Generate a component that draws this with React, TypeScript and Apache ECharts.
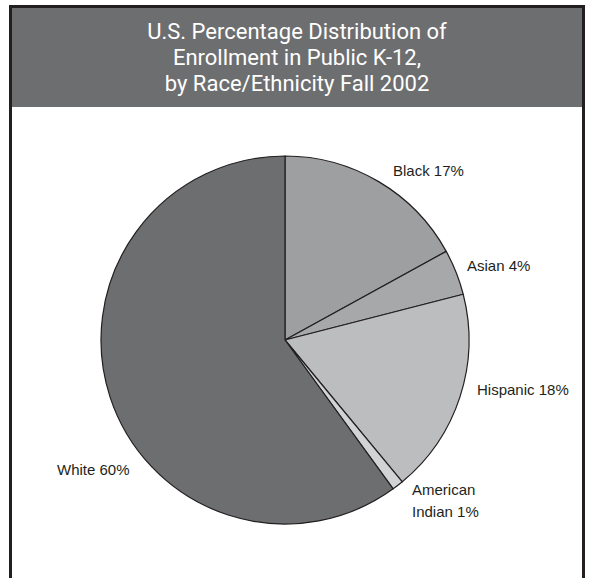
import React, { useEffect, useRef } from "react";
import * as echarts from "echarts";

const categories = ["Black", "Asian", "Hispanic", "American\nIndian", "White"];
const percentages = [17, 4, 18, 1, 60];
const sliceColors = ["#9e9fa1", "#a7a8aa", "#bcbdbf", "#d2d3d5", "#6d6e70"];
const titleLines = [
  "U.S. Percentage Distribution of",
  "Enrollment in Public K-12,",
  "by Race/Ethnicity Fall 2002",
];

const labelPos = [
  { x: 393, y: 170 },
  { x: 467, y: 265 },
  { x: 477, y: 389 },
  { x: 412, y: 500 },
  { x: 57, y: 469 },
];

export default function App() {
  const ref = useRef<HTMLDivElement>(null);
  useEffect(() => {
    document.body.style.margin = "0";
    const chart = echarts.init(ref.current!, null, { renderer: "svg" });
    chart.setOption({
      animation: false,
      backgroundColor: "#ffffff",
      graphic: [
        {
          type: "rect",
          z: 0,
          shape: { x: 10.5, y: 6.5, width: 573, height: 600 },
          style: { fill: "#ffffff", stroke: "#231f20", lineWidth: 3 },
        },
        {
          type: "rect",
          z: 1,
          shape: { x: 12, y: 8, width: 570, height: 99 },
          style: { fill: "#6d6e70" },
        },
        ...titleLines.map((t, i) => ({
          type: "text",
          z: 2,
          x: 297,
          y: 31 + i * 26,
          style: {
            text: t,
            fill: "#ffffff",
            font: "22px Roboto, 'Liberation Sans', sans-serif",
            align: "center",
            verticalAlign: "middle",
          },
        })),
      ],
      series: [
        {
          type: "pie",
          center: [285, 340],
          radius: 184,
          startAngle: 90,
          clockwise: true,
          z: 3,
          data: categories.map((c, i) => ({
            name: c,
            value: percentages[i],
            itemStyle: { color: sliceColors[i] },
          })),
          itemStyle: { borderColor: "#231f20", borderWidth: 1.2 },
          label: {
            show: true,
            position: "outside",
            alignTo: "none",
            overflow: "none",
            formatter: (p: any) => `${p.name} ${p.value}%`,
            fontFamily: "'Liberation Sans', Arial, sans-serif",
            fontSize: 15,
            color: "#231f20",
            lineHeight: 22,
          },
          labelLine: { show: false },
          labelLayout: (params: any) => ({
            x: labelPos[params.dataIndex].x,
            y: labelPos[params.dataIndex].y,
            align: "left",
            verticalAlign: "middle",
          }),
          emphasis: { disabled: true },
        },
      ],
    });
    return () => chart.dispose();
  }, []);
  return <div ref={ref} style={{ width: 590, height: 578 }} />;
}
